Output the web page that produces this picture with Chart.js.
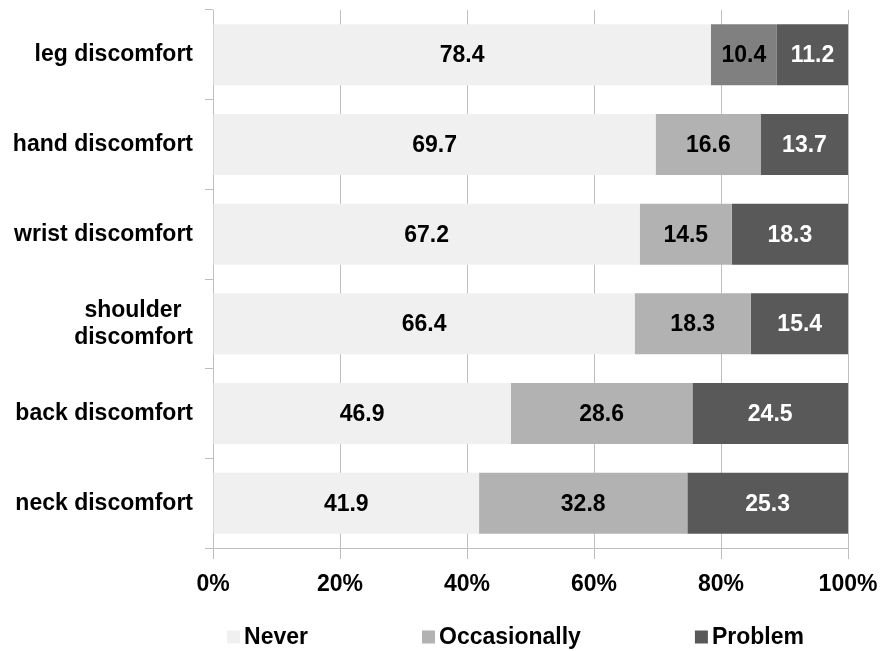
<!DOCTYPE html>
<html>
<head>
<meta charset="utf-8">
<script src="https://cdn.jsdelivr.net/npm/chart.js@4/dist/chart.umd.min.js"></script>
<style>
  html, body { margin: 0; padding: 0; background: #fff; }
  #wrap { width: 880px; height: 651px; }
</style>
</head>
<body>
<div id="wrap"><canvas id="myChart"></canvas></div>
<script>
const categories = ['leg discomfort', 'hand discomfort', 'wrist discomfort', ['shoulder\u2002', 'discomfort'], 'back discomfort', 'neck discomfort']
const never = [78.4, 69.7, 67.2, 66.4, 46.9, 41.9]
const occasionally = [10.4, 16.6, 14.5, 18.3, 28.6, 32.8]
const problem = [11.2, 13.7, 18.3, 15.4, 24.5, 25.3]
const xTicks = [0, 20, 40, 60, 80, 100]
const seriesNames = ['Never', 'Occasionally', 'Problem']
const seriesColors = ['#f0f0f0', '#b2b2b2', '#595959']

const FONT = "'Liberation Sans', Arial, sans-serif"
const FSIZE = 23

// occasionally bar for leg is darker in the original
const occColors = occasionally.map((v, i) => i === 0 ? '#808080' : seriesColors[1])

const valueLabels = {
    id: 'valueLabels',
    afterDatasetsDraw(chart) {
        const ctx = chart.ctx
        ctx.save()
        ctx.font = 'bold ' + FSIZE + 'px ' + FONT
        ctx.textAlign = 'center'
        ctx.textBaseline = 'middle'
        chart.data.datasets.forEach((ds, di) => {
            const meta = chart.getDatasetMeta(di)
            meta.data.forEach((el, i) => {
                const p = el.getCenterPoint()
                ctx.fillStyle = di === 2 ? '#ffffff' : '#000000'
                ctx.fillText(ds.data[i].toFixed(1), p.x, p.y + 1)
            })
        })
        ctx.restore()
    }
}

// wide-spaced legend under the axis, like the original
const bottomLegend = {
    id: 'bottomLegend',
    afterDraw(chart) {
        const ctx = chart.ctx
        const area = chart.chartArea
        const box = 13, gap = 4, spacing = 114
        ctx.save()
        ctx.font = 'bold ' + FSIZE + 'px ' + FONT
        ctx.textBaseline = 'middle'
        ctx.textAlign = 'left'
        const widths = seriesNames.map(n => box + gap + ctx.measureText(n).width)
        const total = widths.reduce((a, b) => a + b, 0) + spacing * (seriesNames.length - 1)
        let x = (area.left + area.right) / 2 - 15 - total / 2
        const y = area.bottom + 89
        seriesNames.forEach((n, i) => {
            ctx.fillStyle = seriesColors[i]
            ctx.fillRect(x, y - box / 2, box, box)
            ctx.fillStyle = '#000'
            ctx.fillText(n, x + box + gap, y + 1)
            x += widths[i] + spacing
        })
        ctx.restore()
    }
}

const data = {
    labels: categories,
    datasets: [{
        label: seriesNames[0],
        backgroundColor: seriesColors[0],
        data: never,
    }, {
        label: seriesNames[1],
        backgroundColor: occColors,
        data: occasionally,
    }, {
        label: seriesNames[2],
        backgroundColor: seriesColors[2],
        data: problem,
    }]
}

const config = {
    type: 'bar',
    data: data,
    plugins: [valueLabels, bottomLegend],
    options: {
        indexAxis: 'y',
        responsive: true,
        maintainAspectRatio: false,
        animation: false,
        layout: { padding: { top: 10, right: 32, left: 0, bottom: 0 } },
        categoryPercentage: 0.68,
        barPercentage: 1,
        scales: {
            x: {
                stacked: true,
                min: 0,
                max: 100,
                afterBuildTicks(axis) {
                    axis.ticks = xTicks.map(v => ({ value: v }))
                },
                afterFit(axis) {
                    axis.paddingLeft = 0
                    axis.paddingRight = 0
                    axis.height = 103
                },
                grid: {
                    color: '#bfbfbf',
                    tickLength: 11,
                    tickColor: '#bfbfbf',
                },
                border: { color: '#bfbfbf' },
                ticks: {
                    color: '#000',
                    padding: 12,
                    font: { family: FONT, size: FSIZE, weight: 'bold' },
                    callback: v => v + '%',
                }
            },
            y: {
                stacked: true,
                afterFit(axis) {
                    axis.paddingTop = 0
                    axis.paddingBottom = 0
                    axis.width = 213
                },
                grid: {
                    offset: true,
                    drawOnChartArea: false,
                    tickLength: 8,
                    tickColor: '#bfbfbf',
                },
                border: { color: '#bfbfbf' },
                ticks: {
                    color: '#000',
                    padding: 12,
                    font: { family: FONT, size: FSIZE, weight: 'bold', lineHeight: 1.17 },
                }
            }
        },
        plugins: {
            tooltip: { enabled: false },
            legend: { display: false }
        }
    }
}

const myChart = new Chart('myChart', config)
</script>
</body>
</html>
